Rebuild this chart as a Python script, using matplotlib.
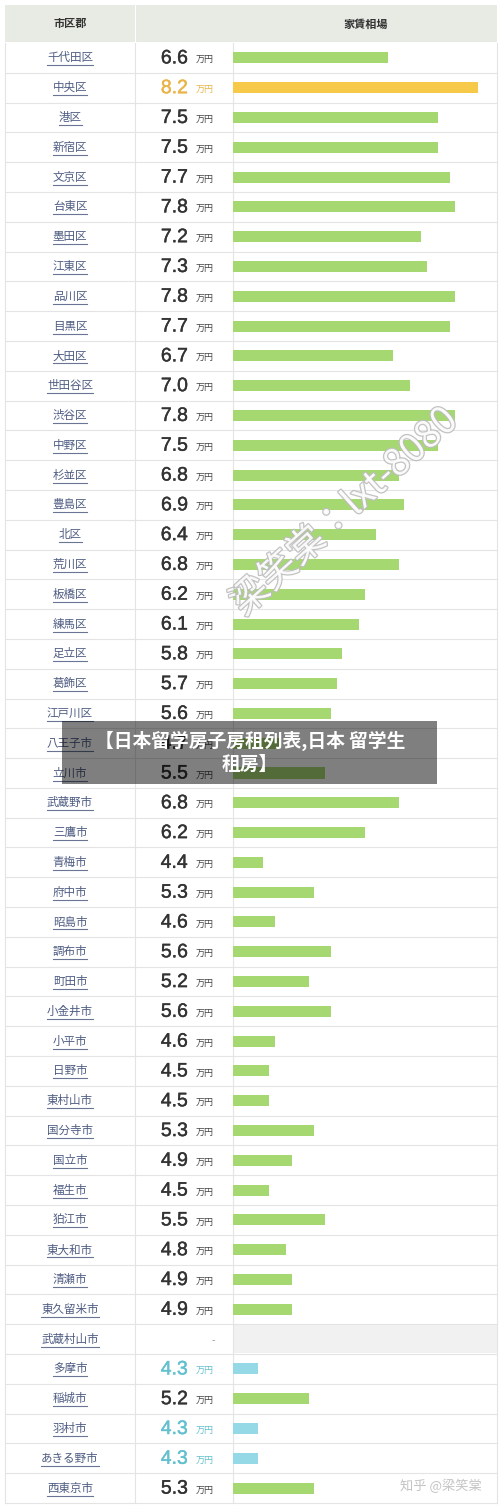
import numpy as np
import matplotlib
matplotlib.use("Agg")
import matplotlib.pyplot as plt
from matplotlib.patches import Rectangle
import matplotlib.patheffects as pe

# dane z tabeli
names = ["千代田区", "中央区", "港区", "新宿区", "文京区", "台東区", "墨田区", "江東区",
         "品川区", "目黒区", "大田区", "世田谷区", "渋谷区", "中野区", "杉並区", "豊島区",
         "北区", "荒川区", "板橋区", "練馬区", "足立区", "葛飾区", "江戸川区", "八王子市",
         "立川市", "武蔵野市", "三鷹市", "青梅市", "府中市", "昭島市", "調布市", "町田市",
         "小金井市", "小平市", "日野市", "東村山市", "国分寺市", "国立市", "福生市", "狛江市",
         "東大和市", "清瀬市", "東久留米市", "武蔵村山市", "多摩市", "稲城市", "羽村市",
         "あきる野市", "西東京市"]
values = [6.6, 8.2, 7.5, 7.5, 7.7, 7.8, 7.2, 7.3,
          7.8, 7.7, 6.7, 7.0, 7.8, 7.5, 6.8, 6.9,
          6.4, 6.8, 6.2, 6.1, 5.8, 5.7, 5.6, 4.7,
          5.5, 6.8, 6.2, 4.4, 5.3, 4.6, 5.6, 5.2,
          5.6, 4.6, 4.5, 4.5, 5.3, 4.9, 4.5, 5.5,
          4.8, 4.9, 4.9, np.nan, 4.3, 5.2, 4.3,
          4.3, 5.3]
header = ["市区郡", "家賃相場"]
unit = "万円"
title = "【日本留学房子房租列表,日本 留学生\n租房】"
watermark = "梁笑棠：lxt-8080"
credit = "知乎 @梁笑棠"

W, H = 500, 1505
fig = plt.figure(figsize=(W / 100, H / 100), dpi=100)
fig.patch.set_facecolor("white")

cjk = ["Noto Sans CJK JP", "DejaVu Sans"]
num = ["Liberation Sans", "Noto Sans CJK JP"]

ax = fig.add_axes([0, 0, 1, 1])
ax.set_xlim(0, W)
ax.set_ylim(H, 0)
ax.axis("off")

n = len(names)
top, bottom = 43, 1503
rh = (bottom - top) / n
vmax = np.nanmax(values)
vmin = np.nanmin(values)

green = "#a6d872"
orange = "#f7c948"
blue = "#96d9e6"
line_c = "#e4e4e4"

# naglowek
ax.add_patch(Rectangle((5, 5), 130, 37, color="#e8eae4", lw=0))
ax.add_patch(Rectangle((136, 5), 361, 37, color="#e8eae4", lw=0))
ax.text(70, 24, header[0], ha="center", va="center", fontsize=8, fontweight="bold",
        color="#333333", family=cjk)
ax.text(366, 24, header[1], ha="center", va="center", fontsize=8, fontweight="bold",
        color="#333333", family=cjk)

fig.canvas.draw()
r = fig.canvas.get_renderer()
for i, (nm, v) in enumerate(zip(names, values)):
    yc = top + rh * (i + 0.5)
    ax.plot([5, 497], [top + rh * (i + 1)] * 2, color=line_c, lw=0.8)
    if np.isnan(v):
        ax.add_patch(Rectangle((233, top + rh * i + 1), 264, rh - 2, color="#f1f1f1", lw=0))
        ax.text(215, yc + 1, "-", ha="right", va="center", fontsize=7, color="#999999")
    else:
        if v == vmax:
            c = "#e9b54a"
        elif v == vmin:
            c = "#62c0cf"
        else:
            c = "#333333"
        ax.text(188, yc + 1, "%.1f" % v, ha="right", va="center", fontsize=14,
                color=c, family=num,
                path_effects=[pe.withStroke(linewidth=0.3, foreground=c)])
        ax.text(196, yc + 2, unit, ha="left", va="center", fontsize=6.5,
                color=c if c != "#333333" else "#444444", family=cjk)
    t = ax.text(70, yc, nm, ha="center", va="center", fontsize=8.3, color="#4e5c82", family=cjk)
    bb = t.get_window_extent(r)
    x0 = bb.x0 * W / fig.bbox.width
    x1 = bb.x1 * W / fig.bbox.width
    ax.plot([x0, x1], [yc + 7.5, yc + 7.5], color="#6a7596", lw=0.8)

# linie pionowe
for x in [5, 135, 232.5, 497]:
    ax.plot([x, x], [top, bottom], color=line_c, lw=0.8)

# slupki
base = 3.86
k = 56.4
bx = fig.add_axes([233 / W, 1 - bottom / H, 264 / W, (bottom - top) / H])
bx.set_facecolor("none")
bx.axis("off")
bx.set_xlim(base, base + 264 / k)
bx.set_ylim(n - 0.5, -0.5)
vals = np.array(values)
cols = [orange if v == vmax else blue if v == vmin else green for v in vals]
ys = np.arange(n)
ok = ~np.isnan(vals)
bx.barh(ys[ok], vals[ok] - base, left=base, height=0.37,
        color=[c for c, o in zip(cols, ok) if o])

# nakladka
ox = fig.add_axes([0, 0, 1, 1])
ox.set_xlim(0, W)
ox.set_ylim(H, 0)
ox.axis("off")
ox.patch.set_alpha(0)
ox.text(345, 512, watermark, ha="center", va="center", rotation=42, fontsize=27,
        color="white", family=cjk, alpha=0.9,
        path_effects=[pe.withStroke(linewidth=1.8, foreground="#bdbdbd")])
ox.add_patch(Rectangle((62, 721), 375, 63, color="black", alpha=0.5, lw=0))
ox.text(250, 752, title, ha="center", va="center", fontsize=13.5, fontweight="bold",
        color="white", family=cjk, linespacing=1.25)
ox.text(441, 1486, credit, ha="center", va="center", fontsize=9.5, color="#c4c4c4",
        family=cjk)

fig.savefig("out.png", dpi=100)
